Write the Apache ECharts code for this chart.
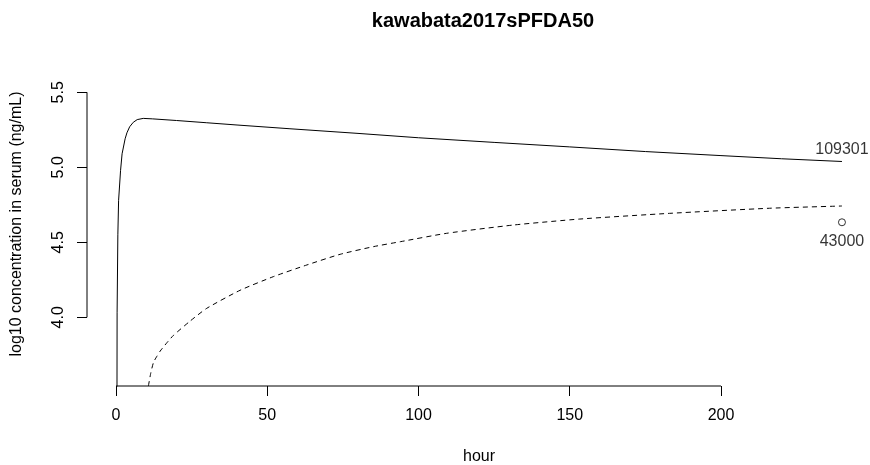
<!DOCTYPE html>
<html>
<head>
<meta charset="utf-8">
<script src="https://cdn.jsdelivr.net/npm/echarts@6/dist/echarts.min.js"></script>
<style>
  html, body { margin: 0; padding: 0; background: #fff; }
  #chart { width: 870px; height: 465px; }
</style>
</head>
<body>
<div id="chart"></div>
<script>
// Solid curve: log10 serum concentration over time
const solidHours = [0.3, 0.35, 0.6, 0.85, 1.5, 2.0, 3.0, 3.6, 4.5, 5.7, 7.0, 9.0, 12, 20, 30, 40, 57.5, 80, 100, 125, 150, 175, 200, 220, 240];
const solidLog10 = [3.30, 4.03, 4.55, 4.78, 4.98, 5.09, 5.19, 5.23, 5.27, 5.30, 5.318, 5.326, 5.323, 5.312, 5.297, 5.282, 5.257, 5.226, 5.197, 5.166, 5.136, 5.105, 5.078, 5.057, 5.0387];

// Dashed curve: log10 concentration over time
const dashedHours = [10.7, 11.5, 12.4, 13.5, 14.6, 16.8, 19.0, 24.5, 30.0, 41.0, 52.0, 63.1, 74.1, 85.1, 94.0, 109.3, 131.3, 153.3, 183, 216, 240];
const dashedLog10 = [3.542, 3.63, 3.70, 3.74, 3.775, 3.83, 3.88, 3.975, 4.06, 4.18, 4.271, 4.349, 4.42, 4.471, 4.504, 4.56, 4.615, 4.655, 4.693, 4.727, 4.742];

// Labelled end value of the solid curve and the observed point
const endHour = [240];
const endConc = [109301];
const obsHour = [240];
const obsConc = [43000];

// Axis ticks
const xTicks = [0, 50, 100, 150, 200];
const yTicks = [4.0, 4.5, 5.0, 5.5];
const xRange = [-9.6, 249.6];
const yRange = [3.542, 5.702];

const FONT = 'Liberation Sans, Arial, sans-serif';

const zip = (xs, ys) => xs.map((x, i) => [x, ys[i]]);

const chart = echarts.init(document.getElementById('chart'), null, { renderer: 'canvas' });

chart.setOption({
  animation: false,
  backgroundColor: '#fff',
  title: {
    text: 'kawabata2017sPFDA50',
    left: 478,
    top: 6,
    textAlign: 'center',
    textStyle: { fontFamily: FONT, fontWeight: 'bold', fontSize: 20, color: '#000' }
  },
  grid: { left: 87, top: 62, width: 784, height: 324, containLabel: false, outerBoundsMode: 'none' },
  xAxis: {
    type: 'value',
    min: xRange[0],
    max: xRange[1],
    name: 'hour',
    nameLocation: 'middle',
    nameGap: 63,
    nameTextStyle: { fontFamily: FONT, fontSize: 16, color: '#000', verticalAlign: 'top' },
    axisLine: { show: false, onZero: false },
    splitLine: { show: false },
    axisTick: { show: true, customValues: xTicks, length: 10, lineStyle: { color: '#000', width: 1 } },
    axisLabel: {
      customValues: xTicks,
      margin: 22,
      fontFamily: FONT, fontSize: 16, color: '#000',
      formatter: v => String(Math.round(v))
    }
  },
  yAxis: {
    type: 'value',
    min: yRange[0],
    max: yRange[1],
    name: 'log10 concentration in serum (ng/mL)',
    nameLocation: 'middle',
    nameGap: 62,
    nameRotate: 90,
    nameTextStyle: { fontFamily: FONT, fontSize: 16, color: '#000' },
    axisLine: { show: false, onZero: false },
    splitLine: { show: false },
    axisTick: { show: true, customValues: yTicks, length: 10, lineStyle: { color: '#000', width: 1 } },
    axisLabel: {
      customValues: yTicks,
      rotate: 90,
      margin: 20,
      fontFamily: FONT, fontSize: 16, color: '#000',
      formatter: v => v.toFixed(1)
    }
  },
  series: [
    // axis lines spanning the first to last tick
    {
      type: 'line', silent: true, clip: false, symbol: 'none',
      data: [[xTicks[0], yRange[0]], [xTicks[xTicks.length - 1], yRange[0]]],
      lineStyle: { color: '#000', width: 1 }
    },
    {
      type: 'line', silent: true, clip: false, symbol: 'none',
      data: [[xRange[0], yTicks[0]], [xRange[0], yTicks[yTicks.length - 1]]],
      lineStyle: { color: '#000', width: 1 }
    },
    {
      type: 'line', symbol: 'none', clip: true,
      data: zip(solidHours, solidLog10),
      lineStyle: { color: '#000', width: 1 }
    },
    {
      type: 'line', symbol: 'none', clip: true, smooth: 0.2,
      data: zip(dashedHours, dashedLog10),
      lineStyle: { color: '#000', width: 1, type: [5, 4] }
    },
    // value label at the end of the solid curve
    {
      type: 'scatter', symbol: 'circle', symbolSize: 1,
      itemStyle: { color: 'rgba(0,0,0,0)' },
      data: endHour.map((h, i) => ({ value: [h, Math.log10(endConc[i])], raw: endConc[i] })),
      label: {
        show: true, position: 'top', distance: 3,
        fontFamily: FONT, fontSize: 16, color: '#000',
        formatter: p => String(p.data.raw)
      }
    },
    // observed concentration
    {
      type: 'scatter', symbol: 'circle', symbolSize: 7,
      itemStyle: { color: '#fff', borderColor: '#000', borderWidth: 1 },
      data: obsHour.map((h, i) => ({ value: [h, Math.log10(obsConc[i])], raw: obsConc[i] })),
      label: {
        show: true, position: 'bottom', distance: 7,
        fontFamily: FONT, fontSize: 16, color: '#000',
        formatter: p => String(p.data.raw)
      }
    }
  ]
});
</script>
</body>
</html>
